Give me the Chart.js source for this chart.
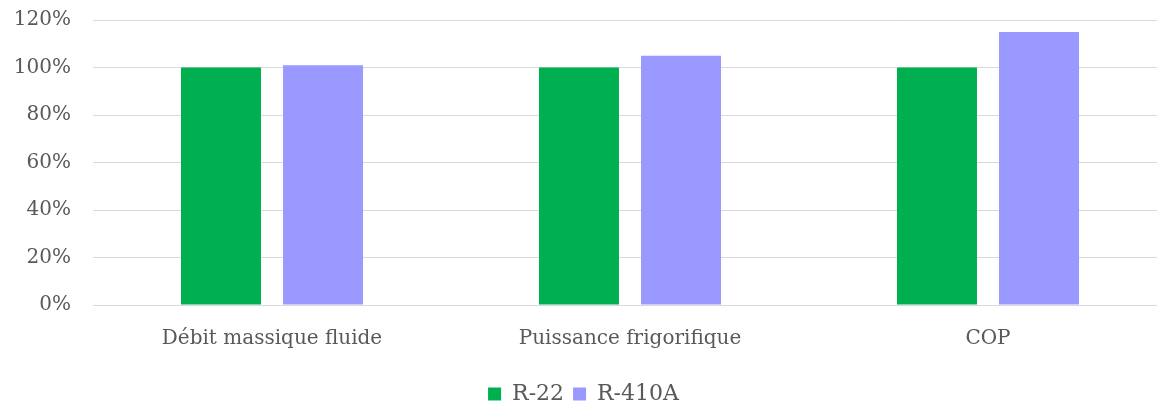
<!DOCTYPE html>
<html>
<head>
<meta charset="utf-8">
<script src="https://cdn.jsdelivr.net/npm/chart.js@4/dist/chart.umd.min.js"></script>
<style>
  html, body { margin: 0; padding: 0; background: #fff; overflow: hidden; }
  #wrap { width: 1157px; height: 405px; overflow: hidden; }
</style>
</head>
<body>
<div id="wrap"><canvas id="chart" width="1167" height="405"></canvas></div>
<script>
// data
var categories = ["Débit massique fluide", "Puissance frigorifique", "COP"];
var r22 = [100, 100, 100];
var r410a = [101, 105, 115];
var yTicks = [0, 20, 40, 60, 80, 100, 120];

var grey = "#595959";
var gridColour = "#d9d9d9";
var font = "'DejaVu Serif', 'Liberation Serif', serif";

var ctx = document.getElementById("chart").getContext("2d");

// plot runs off the right edge in the original, so the canvas is a bit wider than the window
var chart = new Chart(ctx, {
    type: 'bar',
    data: {
        labels: categories,
        datasets: [{
            label: 'R-22',
            data: r22,
            backgroundColor: "#00b050",
            categoryPercentage: 0.57,
            barPercentage: 0.784
        }, {
            label: 'R-410A',
            data: r410a,
            backgroundColor: "#9999ff",
            categoryPercentage: 0.57,
            barPercentage: 0.784
        }]
    },
    options: {
        responsive: false,
        animation: false,
        layout: { padding: { top: 20, right: 0, left: 0, bottom: -10 } },
        plugins: {
            tooltip: { enabled: false },
            legend: {
                position: 'bottom',
                labels: {
                    color: grey,
                    font: { family: font, size: 22 },
                    boxWidth: 13,
                    boxHeight: 13,
                    padding: 9
                }
            }
        },
        scales: {
            x: {
                grid: { display: false },
                border: { color: gridColour },
                ticks: {
                    color: grey,
                    font: { family: font, size: 20 },
                    padding: 14
                },
                afterFit: function(scale) {
                    scale.height = 69;
                    scale.paddingLeft = 0;
                    scale.paddingRight = 0;
                }
            },
            y: {
                min: 0,
                max: 120,
                afterBuildTicks: function(scale) {
                    scale.ticks = yTicks.map(function(v) { return { value: v }; });
                },
                grid: { color: gridColour, drawTicks: false },
                border: { display: false },
                ticks: {
                    color: grey,
                    font: { family: font, size: 20 },
                    padding: 22,
                    callback: function(v) { return v + "%"; }
                },
                afterFit: function(scale) {
                    scale.width = 93;
                    scale.paddingTop = 0;
                    scale.paddingBottom = 0;
                }
            }
        }
    }
});
</script>
</body>
</html>
